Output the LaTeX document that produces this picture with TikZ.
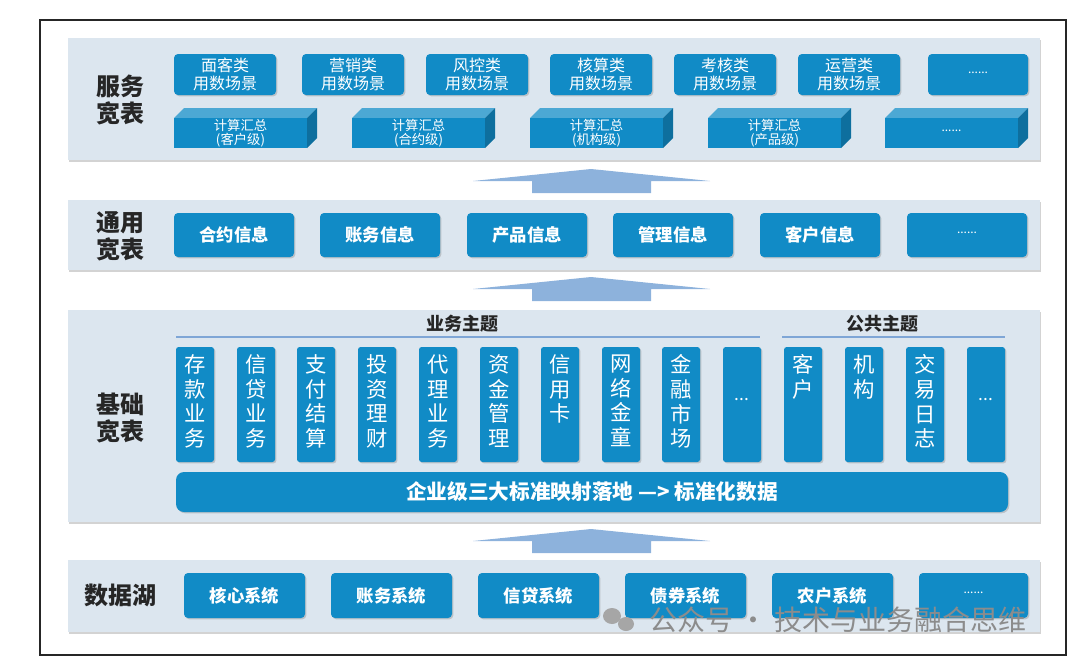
\documentclass[tikz,border=0pt]{standalone}
\usepackage{fontspec}
\newfontfamily\cjk{Noto Sans CJK SC}
\usetikzlibrary{shadows}
\definecolor{boxblue}{HTML}{118BC6}
\definecolor{band}{HTML}{DCE6EF}
\definecolor{arr}{HTML}{8DB2DC}
\definecolor{lineblue}{HTML}{7FA6D6}
\newcommand\sixdots{{\normalfont\cjk\fontsize{9}{10}\selectfont ......}}
\newcommand\threedots{...}
\tikzset{
 bandbox/.style={fill=band, drop shadow={shadow xshift=1pt,shadow yshift=-1.5pt,opacity=0.35}},
 bbox/.style={fill=boxblue, rounded corners=3pt, drop shadow={shadow xshift=1pt,shadow yshift=-1pt,opacity=0.35}},
 btxt/.style={text=white, font=\cjk\bfseries\fontsize{13}{15}\selectfont},
 stxt/.style={text=white, font=\cjk\fontsize{12}{13}\selectfont, align=center},
 ctxt/.style={text=white, font=\cjk\fontsize{10}{11}\selectfont, align=center},
 vtxt/.style={text=white, font=\cjk\fontsize{16}{18.5}\selectfont, align=center},
 lbl/.style={font=\cjk\bfseries\fontsize{18}{20}\selectfont, text=black!85, align=center},
 hdr/.style={font=\cjk\bfseries\fontsize{13.5}{15}\selectfont, text=black!85},
}
\begin{document}
\begin{tikzpicture}[x=0.75pt,y=-0.75pt]
\useasboundingbox (0,0) rectangle (1080,662);
\draw[line width=1.5pt, black!85] (40,20) rectangle (1066,655);
% bands
\path[bandbox] (68,38) rectangle (1040,160);
\path[bandbox] (68,200) rectangle (1040,270);
\path[bandbox] (68,310) rectangle (1040,522);
\path[bandbox] (68,560) rectangle (1040,632);
% arrows
\foreach \y in {169,277,529}{
 \fill[arr] (473,\y+12) -- (591,\y) -- (710,\y+12) -- (651,\y+12) -- (651,\y+24) -- (532,\y+24) -- (532,\y+12) -- cycle;
}
% labels
\node[lbl] (l1) at (120,100) {服务\\宽表};
\node[lbl] (l2) at (120,236) {通用\\宽表};
\node[lbl] (l3) at (120,418) {基础\\宽表};
\node[lbl] (l4) at (120,595) {数据湖};
% service top boxes
\foreach \x/\t [count=\i] in {174/面客类,302/营销类,426/风控类,550/核算类,674/考核类,798/运营类}{
 \path[bbox] (\x,54) rectangle (\x+102,95);
 \node[stxt] (s\i) at (\x+51,74.5) {\t\\用数场景};
}
\path[bbox] (928,54) rectangle (1028,95);
\node[stxt] (s7) at (978,73) {\sixdots};
% 3D boxes
\foreach \x/\t [count=\i] in {174/(客户级),352/(合约级),530/(机构级),708/(产品级)}{
 \fill[boxblue!75!white] (\x,118) -- (\x+10,108) -- (\x+143,108) -- (\x+133,118) -- cycle;
 \fill[boxblue!80!black] (\x+133,118) -- (\x+143,108) -- (\x+143,138) -- (\x+133,148) -- cycle;
 \fill[boxblue] (\x,118) rectangle (\x+133,148);
 \node[ctxt] (c\i) at (\x+66.5,133) {计算汇总\\\t};
}
\fill[boxblue!75!white] (885,118) -- (895,108) -- (1028,108) -- (1018,118) -- cycle;
\fill[boxblue!80!black] (1018,118) -- (1028,108) -- (1028,138) -- (1018,148) -- cycle;
\fill[boxblue] (885,118) rectangle (1018,148);
\node[ctxt] (c5) at (951.5,131) {\sixdots};
% common
\foreach \x/\t [count=\i] in {174/合约信息,320/账务信息,467/产品信息,613/管理信息,760/客户信息}{
 \path[bbox] (\x,213) rectangle (\x+120,257);
 \node[btxt] (g\i) at (\x+60,235) {\t};
}
\path[bbox] (907,213) rectangle (1027,257);
\node[btxt] (g6) at (967,233) {\sixdots};
% base
\node[hdr] (h1) at (462,324) {业务主题};
\node[hdr] (h2) at (882,324) {公共主题};
\draw[lineblue, line width=1.2pt] (176,337) -- (760,337);
\draw[lineblue, line width=1.2pt] (782,337) -- (1005,337);
\foreach \x/\t [count=\i] in {176/{存\\款\\业\\务},237/{信\\贷\\业\\务},297/{支\\付\\结\\算},358/{投\\资\\理\\财},419/{代\\理\\业\\务},480/{资\\金\\管\\理},541/{信\\用\\卡},602/{网\\络\\金\\童},662/{金\\融\\市\\场},784/{客\\户},845/{机\\构},906/{交\\易\\日\\志}}{
 \path[bbox, rounded corners=2pt] (\x,347) rectangle (\x+38,462);
 \node[vtxt, anchor=north] (v\i) at (\x+19,350) {\t};
}
\foreach \x [count=\i] in {723,967}{
 \path[bbox, rounded corners=2pt] (\x,347) rectangle (\x+38,462);
 \node[vtxt, font=\cjk\fontsize{13}{14}\selectfont] (e\i) at (\x+19,400) {\threedots};
}
\path[bbox, rounded corners=6pt] (176,472) rectangle (1008,512);
\node[btxt, font=\cjk\bfseries\fontsize{15.5}{17}\selectfont] (bar) at (592,492) {企业级三大标准映射落地 —> 标准化数据};
% data lake
\foreach \x/\t [count=\i] in {184/核心系统,331/账务系统,478/信贷系统,625/债券系统,772/农户系统}{
 \path[bbox] (\x,573) rectangle (\x+121,618);
 \node[btxt] (d\i) at (\x+60.5,595.5) {\t};
}
\path[bbox] (919,573) rectangle (1028,618);
\node[btxt] (d6) at (973.5,593) {\sixdots};
% watermark
\node[font=\cjk\fontsize{21}{24}\selectfont, text=black!45, anchor=west] (wm) at (645,620) {公众号 · 技术与业务融合思维};
\fill[black!35] (612,616) ellipse (9 and 8);
\fill[black!35] (626,624) ellipse (8 and 7);
\end{tikzpicture}
\end{document}
